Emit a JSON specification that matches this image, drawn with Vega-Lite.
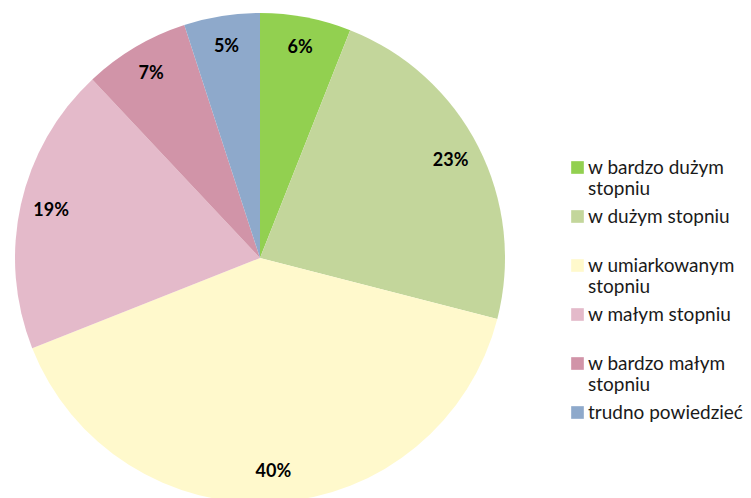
{
  "$schema": "https://vega.github.io/schema/vega-lite/v6.json",
  "width": 520,
  "height": 516,
  "padding": 0,
  "autosize": {"type": "pad"},
  "background": "white",
  "config": {"view": {"stroke": null}, "font": "Lato"},
  "data": {"values": [
    {"cat": "w bardzo dużym stopniu", "value": 6, "ord": 1, "label": "6%"},
    {"cat": "w dużym stopniu", "value": 23, "ord": 2, "label": "23%"},
    {"cat": "w umiarkowanym stopniu", "value": 40, "ord": 3, "label": "40%"},
    {"cat": "w małym stopniu", "value": 19, "ord": 4, "label": "19%"},
    {"cat": "w bardzo małym stopniu", "value": 7, "ord": 5, "label": "7%"},
    {"cat": "trudno powiedzieć", "value": 5, "ord": 6, "label": "5%"}
  ]},
  "encoding": {
    "theta": {"field": "value", "type": "quantitative", "stack": true},
    "order": {"field": "ord", "type": "quantitative"}
  },
  "layer": [
    {
      "mark": {"type": "arc", "outerRadius": 245},
      "encoding": {
        "color": {
          "field": "cat",
          "type": "nominal",
          "sort": ["w bardzo dużym stopniu", "w dużym stopniu", "w umiarkowanym stopniu", "w małym stopniu", "w bardzo małym stopniu", "trudno powiedzieć"],
          "scale": {
            "domain": ["w bardzo dużym stopniu", "w dużym stopniu", "w umiarkowanym stopniu", "w małym stopniu", "w bardzo małym stopniu", "trudno powiedzieć"],
            "range": ["#92D050", "#C3D69B", "#FFF9CC", "#E4BACA", "#D194A8", "#8EA9CB"]
          },
          "legend": {
            "orient": "none",
            "legendX": 568,
            "legendY": 158,
            "title": null,
            "symbolType": "square",
            "symbolSize": 160,
            "symbolStrokeWidth": 0,
            "symbolOpacity": 1,
            "labelFont": "Lato",
            "labelFontSize": 19,
            "labelColor": "#1a1a1a",
            "labelLimit": 300,
            "labelOffset": 1,
            "labelLineHeight": 25,
            "rowPadding": 8,
            "labelExpr": "datum.label == 'w bardzo dużym stopniu' ? ['w bardzo dużym', 'stopniu'] : datum.label == 'w umiarkowanym stopniu' ? ['w umiarkowanym', 'stopniu'] : datum.label == 'w bardzo małym stopniu' ? ['w bardzo małym', 'stopniu'] : [datum.label, ' ']"
          }
        }
      }
    },
    {
      "mark": {"type": "text", "radius": 214, "fontWeight": "bold", "fontSize": 18, "font": "Lato", "fill": "#000"},
      "encoding": {"text": {"field": "label"}}
    }
  ]
}
